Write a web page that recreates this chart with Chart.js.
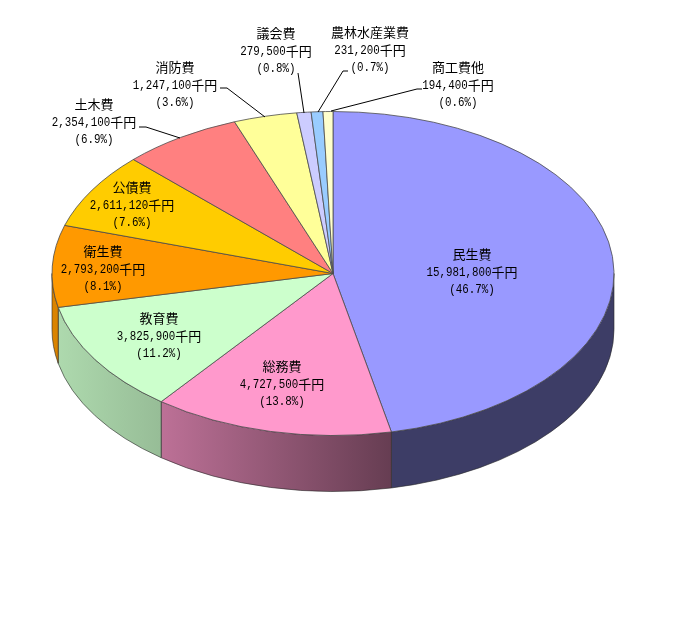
<!DOCTYPE html>
<html lang="ja">
<head>
<meta charset="utf-8">
<title>歳出</title>
<style>
  html, body { margin: 0; padding: 0; background: #fff; }
  canvas { display: block; }
</style>
<script src="https://cdn.jsdelivr.net/npm/chart.js@4/dist/chart.umd.min.js"></script>
</head>
<body>
<canvas id="chart1" width="677" height="631"></canvas>
<script>
const categories = ['民生費', '総務費', '教育費', '衛生費', '公債費', '土木費', '消防費', '議会費', '農林水産業費', '商工費他'];
const amounts = [15981800, 4727500, 3825900, 2793200, 2611120, 2354100, 1247100, 279500, 231200, 194400];
const percents = ['46.7', '13.8', '11.2', '8.1', '7.6', '6.9', '3.6', '0.8', '0.7', '0.6'];
const sliceColors = ['#9999FF', '#FF99CC', '#CCFFCC', '#FF9900', '#FFCC00', '#FF8080', '#FFFF99', '#CCCCFF', '#99CCFF', '#FFFFCC'];

// label centre x / first line y
const labelX = [472, 282, 159, 103, 132, 94, 175, 276, 370, 458];
const labelY = [254, 366, 318, 251, 187, 104, 67, 33, 32, 67];
const leaders = [
  [[139, 127], [146, 127], [180, 138]],
  [[220, 88], [227, 88], [265, 117]],
  [[298, 73], [304, 113]],
  [[348, 71], [343, 71], [318, 112]],
  [[422, 89], [417, 89], [331, 111]],
];

const centerY = 273.5;
const squash = 162 / 281;
const depth = 56;

// wall shading, brightness by screen x
const shadeX = [52, 160, 392, 614];
const shadeF = [0.86, 0.74, 0.4, 0.4];

function shaded(hex, f) {
  const n = parseInt(hex.slice(1), 16);
  return `rgb(${Math.round((n >> 16) * f)},${Math.round(((n >> 8) & 255) * f)},${Math.round((n & 255) * f)})`;
}

const pie3d = {
  id: 'pie3d',
  beforeDatasetsDraw(chart) {
    const ctx = chart.ctx;
    const arcs = chart.getDatasetMeta(0).data;
    arcs.forEach((arc, i) => {
      const { x, outerRadius: r, startAngle, endAngle } = arc.getProps(['x', 'outerRadius', 'startAngle', 'endAngle'], true);
      const a0 = Math.max(startAngle, 0);
      const a1 = Math.min(endAngle, Math.PI);
      if (a1 <= a0) return; // back of the pie, no wall to see
      const g = ctx.createLinearGradient(52, 0, 614, 0);
      shadeX.forEach((sx, k) => g.addColorStop((sx - 52) / 562, shaded(sliceColors[i], shadeF[k])));
      ctx.beginPath();
      ctx.ellipse(x, centerY, r, r * squash, 0, a0, a1);
      ctx.ellipse(x, centerY + depth, r, r * squash, 0, a1, a0, true);
      ctx.closePath();
      ctx.fillStyle = g;
      ctx.fill();
      ctx.strokeStyle = 'rgba(40,40,40,0.6)';
      ctx.lineWidth = 1;
      ctx.stroke();
    });
    ctx.save();
    ctx.translate(0, centerY - arcs[0].y * squash);
    ctx.scale(1, squash);
  },
  afterDatasetsDraw(chart) {
    const ctx = chart.ctx;
    ctx.restore();

    ctx.strokeStyle = '#000';
    ctx.lineWidth = 1;
    leaders.forEach((pts) => {
      ctx.beginPath();
      pts.forEach(([x, y], i) => (i ? ctx.lineTo(x, y) : ctx.moveTo(x, y)));
      ctx.stroke();
    });

    categories.forEach((name, i) => {
      const y = labelY[i];
      drawLine(ctx, name, labelX[i], y);
      drawLine(ctx, amounts[i].toLocaleString('en-US') + '千円', labelX[i], y + 18);
      drawLine(ctx, `(${percents[i]}%)`, labelX[i], y + 35);
    });
  }
};

// half width latin + full width kanji, like a fixed pitch gothic
const fontSize = 13;

function drawLine(ctx, text, cx, y) {
  const parts = text.match(/[\x00-\x7f]+|[^\x00-\x7f]+/g);
  const widthOf = (p) => (p.charCodeAt(0) < 128 ? p.length * fontSize / 2 : p.length * fontSize);
  let x = cx - parts.reduce((s, p) => s + widthOf(p), 0) / 2;
  ctx.fillStyle = '#000';
  ctx.textAlign = 'left';
  ctx.textBaseline = 'middle';
  parts.forEach((p) => {
    if (p.charCodeAt(0) < 128) {
      ctx.font = fontSize + 'px "Liberation Mono"';
      ctx.fillText(p, x, y + 1, widthOf(p));
    } else {
      ctx.font = fontSize + 'px "Noto Sans CJK JP"';
      ctx.fillText(p, x, y);
    }
    x += widthOf(p);
  });
}

new Chart(document.getElementById('chart1').getContext('2d'), {
  type: 'pie',
  data: {
    labels: categories,
    datasets: [{
      data: amounts,
      backgroundColor: sliceColors,
      borderColor: '#4a4a4a',
      borderWidth: 1,
      radius: 281,
      clip: false
    }]
  },
  options: {
    responsive: false,
    animation: false,
    devicePixelRatio: 1,
    layout: { padding: { left: 52, right: 63, top: 0, bottom: 0 } },
    plugins: {
      legend: { display: false },
      tooltip: { enabled: false }
    }
  },
  plugins: [pie3d]
});
</script>
</body>
</html>
